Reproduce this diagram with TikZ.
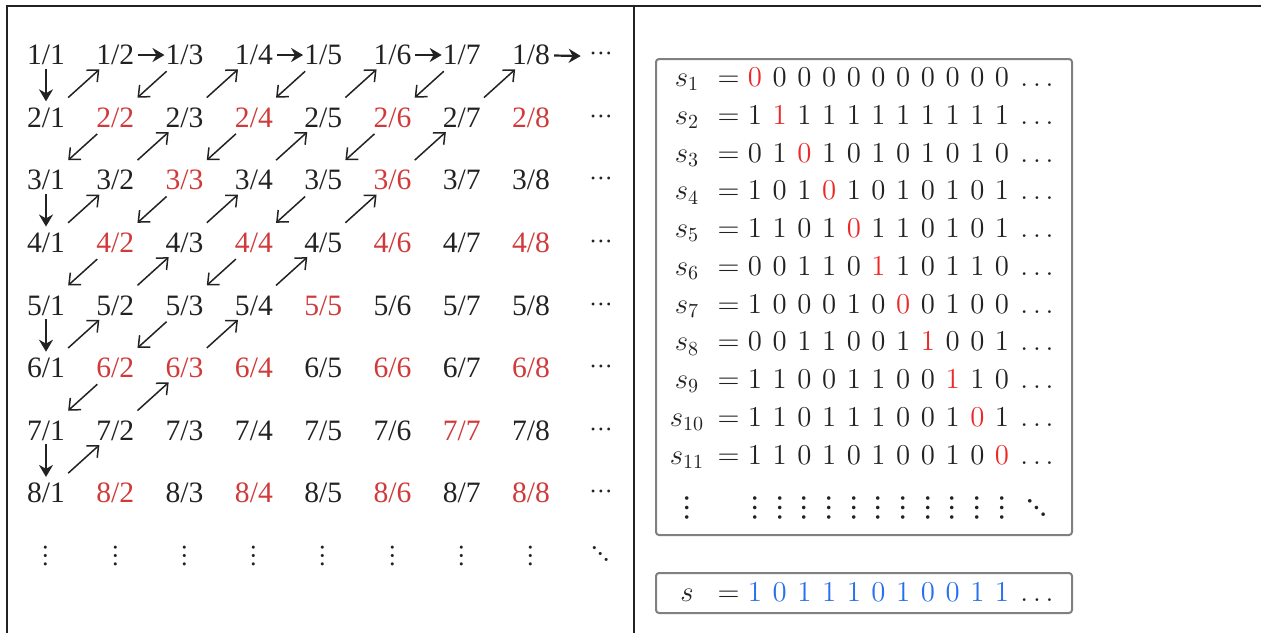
\documentclass[tikz,border=0pt]{standalone}
\usepackage{fontspec}
\usepackage{xcolor}
\usepackage{tikz}
\usetikzlibrary{arrows.meta, calc}
\newfontfamily\fracfont{Liberation Serif}
\newfontfamily\dotfont{Latin Modern Math}
\definecolor{ink}{RGB}{34,34,34}
\definecolor{fracred}{RGB}{208,58,58}
\definecolor{bitred}{RGB}{236,40,40}
\definecolor{bitblue}{RGB}{40,112,236}
\definecolor{boxgray}{RGB}{128,128,128}

\begin{document}
\begin{tikzpicture}[
    x=0.5pt, y=-0.5pt,
    frac/.style={font=\fracfont\fontsize{14.8}{18}\selectfont, text=ink, inner sep=0pt},
    dotsym/.style={font=\dotfont\fontsize{#1}{#1}\selectfont, text=ink, inner sep=0pt},
    bit/.style={font=\fontsize{14}{17}\selectfont, text=ink, inner sep=0pt, anchor=base},
    frame/.style={draw=ink, line width=1pt},
    panel/.style={draw=boxgray, line width=1pt, rounded corners=1.5pt},
    down/.style={-{Stealth[length=6pt, width=7pt]}, line width=1.1pt, ink},
    diag/.style={-{Straight Barb[length=4.5pt, width=8pt]}, line width=0.75pt, ink}
]
\useasboundingbox (0,0) rectangle (1261,633);

% outer frame and divider
\draw[frame] (7,633) -- (7,5.5) -- (1261,5.5);
\draw[frame] (634,5.5) -- (634,633);

% left panel: fractions
\foreach \r in {1,...,8} {
  \foreach \c in {1,...,8} {
    \pgfmathtruncatemacro{\g}{gcd(\r,\c)}
    \ifnum\g>1 \def\fcol{fracred}\else\def\fcol{ink}\fi
    \node[frac, text=\fcol] (f-\r-\c) at ({46+69.3*(\c-1)}, {55+62.6*(\r-1)}) {\r/\c};
  }
  \node[dotsym=14] (row-\r) at (601, {56.5+62.6*(\r-1)}) {⋯};
}
\foreach \c in {1,...,8}
  \node[dotsym=15] (col-\c) at ({46+69.3*(\c-1)}, 556) {⋮};
\node[dotsym=15] (corner) at (601, 554) {⋱};

% zigzag
\foreach \a/\b in {1-1/2-1, 3-1/4-1, 5-1/6-1, 7-1/8-1}
  \draw[down] ($(f-\a)!.22!(f-\b)$) -- ($(f-\a)!.74!(f-\b)$);
\foreach \a/\b in {f-1-2/f-1-3, f-1-4/f-1-5, f-1-6/f-1-7, f-1-8/row-1}
  \draw[down] ($(\a)!.33!(\b)$) -- ($(\a)!.71!(\b)$);
\foreach \a/\b in {2-1/1-2, 4-1/3-2, 3-2/2-3, 2-3/1-4, 6-1/5-2, 5-2/4-3, 4-3/3-4,
    3-4/2-5, 2-5/1-6, 8-1/7-2, 7-2/6-3, 6-3/5-4, 5-4/4-5, 4-5/3-6, 3-6/2-7, 2-7/1-8}
  \draw[diag] ($(f-\a)!.32!(f-\b)$) -- ($(f-\a)!.77!(f-\b)$);
\foreach \a/\b in {1-3/2-2, 2-2/3-1, 1-5/2-4, 2-4/3-3, 3-3/4-2, 4-2/5-1,
    1-7/2-6, 2-6/3-5, 3-5/4-4, 4-4/5-3, 5-3/6-2, 6-2/7-1}
  \draw[diag] ($(f-\a)!.26!(f-\b)$) -- ($(f-\a)!.68!(f-\b)$);

% right panel: the sequences
\draw[panel] (656,59) rectangle (1072,535);
\draw[panel] (656,573) rectangle (1072,613);

\foreach \bits [count=\i] in {
    {0,0,0,0,0,0,0,0,0,0,0},
    {1,1,1,1,1,1,1,1,1,1,1},
    {0,1,0,1,0,1,0,1,0,1,0},
    {1,0,1,0,1,0,1,0,1,0,1},
    {1,1,0,1,0,1,1,0,1,0,1},
    {0,0,1,1,0,1,1,0,1,1,0},
    {1,0,0,0,1,0,0,0,1,0,0},
    {0,0,1,1,0,0,1,1,0,0,1},
    {1,1,0,0,1,1,0,0,1,1,0},
    {1,1,0,1,1,1,0,0,1,0,1},
    {1,1,0,1,0,1,0,0,1,0,0}} {
  \pgfmathsetmacro{\yb}{86.5+37.75*(\i-1)}
  \node[bit] (s-\i) at (687, \yb) {$s_{\i}$};
  \node[bit] (eq-\i) at (728.5, \yb) {$=$};
  \foreach \b [count=\k] in \bits {
    \ifnum\k=\i \def\bcol{bitred}\else\def\bcol{ink}\fi
    \node[bit, text=\bcol] (d-\i-\k) at ({755+24.7*(\k-1)}, \yb) {$\b$};
  }
  \node[bit] (tail-\i) at (1037, \yb) {$\dots$};
}
\node[dotsym=17] (vd-s) at (687, 508) {⋮};
\foreach \k in {1,...,11}
  \node[dotsym=17] (vd-\k) at ({755+24.7*(\k-1)}, 508) {⋮};
\node[dotsym=17] (dd) at (1037, 508) {⋱};

% the diagonal sequence
\node[bit] (s-new) at (687, 601) {$s$};
\node[bit] (eq-new) at (728.5, 601) {$=$};
\foreach \b [count=\k] in {1,0,1,1,1,0,1,0,0,1,1}
  \node[bit, text=bitblue] (n-\k) at ({755+24.7*(\k-1)}, 601) {$\b$};
\node[bit] (tail-new) at (1037, 601) {$\dots$};
\end{tikzpicture}
\end{document}
